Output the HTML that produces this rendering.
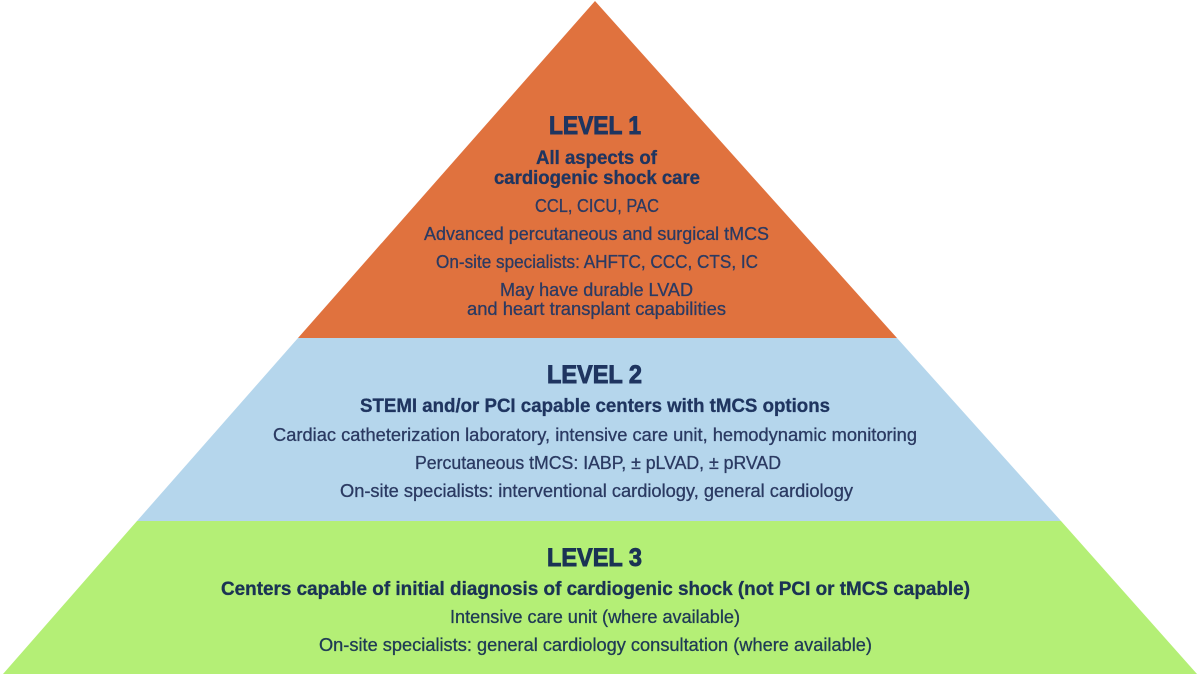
<!DOCTYPE html>
<html>
<head>
<meta charset="utf-8">
<style>
html,body{margin:0;padding:0;background:#fff;width:1200px;height:676px;overflow:hidden}
svg{display:block}
text{font-family:"Liberation Sans",sans-serif;text-anchor:middle}
.h{font-size:25px;font-weight:700;fill:#1f3560;stroke:#1f3560;stroke-width:.9px}
.b{font-size:19px;font-weight:700;fill:#1f3560;stroke:#1f3560;stroke-width:.3px}
.r{font-size:18px;fill:#2b3a62;stroke:#2b3a62;stroke-width:.3px}
.g{fill:#1a3354;stroke:#1a3354}
.n{fill:#1f3a55;stroke:#1f3a55}
</style>
</head>
<body>
<svg width="1200" height="676" viewBox="0 0 1200 676" xmlns="http://www.w3.org/2000/svg">
<rect width="1200" height="676" fill="#fff"/>
<polygon points="595,1 897,338 298,338" fill="#e0723e"/>
<polygon points="298,338 897,338 1061,521 137,521" fill="#b5d6ec"/>
<polygon points="137,521 1061,521 1197,674 3,674" fill="#b4ef76"/>

<text class="h" x="595" y="134" textLength="92" lengthAdjust="spacingAndGlyphs">LEVEL 1</text>
<text class="b" x="596.5" y="164" textLength="121" lengthAdjust="spacingAndGlyphs">All aspects of</text>
<text class="b" x="597" y="184" textLength="206" lengthAdjust="spacingAndGlyphs">cardiogenic shock care</text>
<text class="r" x="597" y="212" textLength="124" lengthAdjust="spacingAndGlyphs">CCL, CICU, PAC</text>
<text class="r" x="596.5" y="240" textLength="345" lengthAdjust="spacingAndGlyphs">Advanced percutaneous and surgical tMCS</text>
<text class="r" x="597" y="268" textLength="322" lengthAdjust="spacingAndGlyphs">On-site specialists: AHFTC, CCC, CTS, IC</text>
<text class="r" x="596.5" y="296" textLength="193" lengthAdjust="spacingAndGlyphs">May have durable LVAD</text>
<text class="r" x="596.5" y="315" textLength="259" lengthAdjust="spacingAndGlyphs">and heart transplant capabilities</text>

<text class="h" x="594.5" y="383" textLength="95" lengthAdjust="spacingAndGlyphs">LEVEL 2</text>
<text class="b" x="595" y="412" textLength="470" lengthAdjust="spacingAndGlyphs">STEMI and/or PCI capable centers with tMCS options</text>
<text class="r" x="595" y="441" textLength="644" lengthAdjust="spacingAndGlyphs">Cardiac catheterization laboratory, intensive care unit, hemodynamic monitoring</text>
<text class="r" x="598" y="469" textLength="366" lengthAdjust="spacingAndGlyphs">Percutaneous tMCS: IABP, ± pLVAD, ± pRVAD</text>
<text class="r" x="596.5" y="497" textLength="513" lengthAdjust="spacingAndGlyphs">On-site specialists: interventional cardiology, general cardiology</text>

<text class="h g" x="594.5" y="566" textLength="95" lengthAdjust="spacingAndGlyphs">LEVEL 3</text>
<text class="b g" x="595.5" y="595" textLength="749" lengthAdjust="spacingAndGlyphs">Centers capable of initial diagnosis of cardiogenic shock (not PCI or tMCS capable)</text>
<text class="r n" x="595" y="623" textLength="290" lengthAdjust="spacingAndGlyphs">Intensive care unit (where available)</text>
<text class="r n" x="595.5" y="651" textLength="553" lengthAdjust="spacingAndGlyphs">On-site specialists: general cardiology consultation (where available)</text>
</svg>
</body>
</html>
